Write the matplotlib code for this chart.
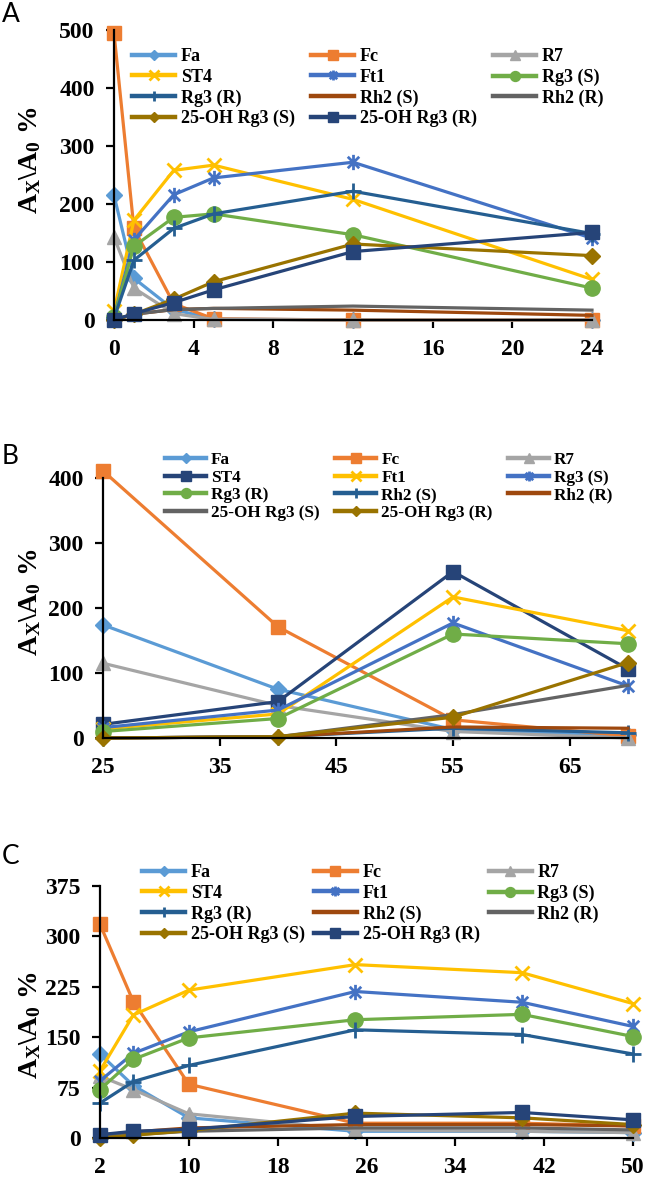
import numpy as np
import matplotlib
matplotlib.use("Agg")
import matplotlib.pyplot as plt
from matplotlib.path import Path

plt.rcParams['font.family'] = ['Liberation Serif', 'DejaVu Serif']
plt.rcParams['font.weight'] = 'bold'
plt.rcParams['mathtext.fontset'] = 'custom'
plt.rcParams['mathtext.rm'] = 'Liberation Serif:bold'
plt.rcParams['mathtext.bf'] = 'Liberation Serif:bold'
plt.rcParams['mathtext.it'] = 'Liberation Serif:bold'

names = ["Fa", "Fc", "R7", "ST4", "Ft1", "Rg3 (S)", "Rg3 (R)",
         "Rh2 (S)", "Rh2 (R)", "25-OH Rg3 (S)", "25-OH Rg3 (R)"]

# panel A: time (h)
xA = [0, 1, 3, 5, 12, 24]
A_Fa = [215, 72, 18, 2, 0, 0]
A_Fc = [495, 158, 28, 2, 0, 0]
A_R7 = [143, 55, 11, 1, 0, 0]
A_ST4 = [15, 172, 258, 267, 208, 70]
A_Ft1 = [5, 138, 216, 245, 272, 141]
A_Rg3S = [5, 127, 177, 183, 147, 55]
A_Rg3R = [3, 103, 158, 183, 222, 149]
A_Rh2S = [0, 10, 18, 20, 17, 8]
A_Rh2R = [0, 10, 18, 20, 24, 17]
A_OHS = [0, 10, 36, 66, 131, 111]
A_OHR = [0, 11, 30, 52, 118, 151]

# panel B: temperature
xB = [25, 40, 55, 70]
B_Fa = [174, 75, 13, 4]
B_Fc = [411, 171, 28, 3]
B_R7 = [115, 50, 10, 0]
B_ST4 = [21, 56, 256, 106]
B_Ft1 = [14, 37, 217, 165]
B_Rg3S = [16, 43, 177, 80]
B_Rg3R = [10, 30, 160, 145]
B_Rh2S = [0, 2, 15, 8]
B_Rh2R = [0, 2, 17, 15]
B_OHS = [0, 2, 36, 81]
B_OHR = [0, 2, 32, 116]

# panel C
xC = [2, 5, 10, 25, 40, 50]
C_Fa = [125, 78, 30, 10, 10, 8]
C_Fc = [318, 203, 80, 22, 22, 18]
C_R7 = [92, 72, 36, 12, 10, 8]
C_ST4 = [100, 183, 220, 258, 246, 200]
C_Ft1 = [85, 126, 158, 218, 202, 166]
C_Rg3S = [72, 117, 149, 176, 184, 151]
C_Rg3R = [52, 84, 108, 161, 154, 125]
C_Rh2S = [4, 9, 15, 20, 20, 18]
C_Rh2R = [2, 5, 10, 15, 15, 12]
C_OHS = [0, 4, 11, 37, 30, 20]
C_OHR = [5, 10, 13, 32, 38, 27]

# excel style asterisk: x plus a vertical bar
ast = Path([(0, -1), (0, 1), (-0.75, -0.75), (0.75, 0.75), (-0.75, 0.75), (0.75, -0.75)],
           [Path.MOVETO, Path.LINETO, Path.MOVETO, Path.LINETO, Path.MOVETO, Path.LINETO])
# (color, marker, size) per series
sty_AC = [("#5B9BD5", "D", 8), ("#ED7D31", "s", 10), ("#A5A5A5", "^", 10),
          ("#FFC000", "x", 10), ("#4472C4", ast, 11), ("#70AD47", "o", 11),
          ("#255E91", "+", 12), ("#9E480E", None, 0), ("#636363", None, 0),
          ("#997300", "D", 8), ("#264478", "s", 10)]
sty_B = [("#5B9BD5", "D", 8), ("#ED7D31", "s", 10), ("#A5A5A5", "^", 10),
         ("#264478", "s", 10), ("#FFC000", "x", 10), ("#4472C4", ast, 11),
         ("#70AD47", "o", 11), ("#255E91", "+", 12), ("#9E480E", None, 0),
         ("#636363", None, 0), ("#997300", "D", 8)]

fig = plt.figure(figsize=(6.45, 11.79), dpi=100)


def panel(rect, x, ys, sty, xlim, xticks, ylim, yticks, leg_xy, lab_y, letter, letter_y,
          lfs=13, lcs=1.0, lls=0.1):
    ax = fig.add_axes(rect)
    lines = []
    for y, (c, m, ms), nm in zip(ys, sty, names):
        thin = isinstance(m, Path) or m in ("x", "+")
        l, = ax.plot(x, y, color=c, lw=2.3, marker=m, ms=ms, mew=2 if thin else 1,
                     mec=c, mfc=c, clip_on=False, label=nm)
        lines.append(l)
    ax.set_xlim(*xlim)
    ax.set_ylim(*ylim)
    ax.set_xticks(xticks)
    ax.set_yticks(yticks)
    for s in ["top", "right"]:
        ax.spines[s].set_visible(False)
    for s in ["left", "bottom"]:
        ax.spines[s].set_linewidth(1.6)
    ax.tick_params(direction="out", length=6, width=1.6, labelsize=17, pad=8)
    order = [0, 3, 6, 9, 1, 4, 7, 10, 2, 5, 8]
    leg = fig.legend([lines[i] for i in order], [names[i] for i in order], ncol=3,
                     loc="upper left", bbox_to_anchor=leg_xy, bbox_transform=fig.transFigure,
                     frameon=False, fontsize=lfs, borderpad=0, borderaxespad=0,
                     handlelength=2.4, handletextpad=0.3, labelspacing=lls,
                     columnspacing=lcs, markerscale=0.65)
    for h in leg.get_lines():
        h.set_linewidth(3.2)
    fig.text(30 / 645, lab_y, r"$\mathrm{A_X\backslash A_0}$ %", rotation=90,
             ha="center", va="center", fontsize=20, fontweight="bold")
    fig.text(2 / 645, letter_y, letter, family="Lato", fontweight="normal",
             fontsize=19, ha="left", va="top")
    return ax


panel([114 / 645, 1 - 320 / 1179, 478 / 645, 290 / 1179], xA,
      [A_Fa, A_Fc, A_R7, A_ST4, A_Ft1, A_Rg3S, A_Rg3R, A_Rh2S, A_Rh2R, A_OHS, A_OHR],
      sty_AC, (0, 24), range(0, 25, 4), (0, 500), range(0, 501, 100),
      (132 / 645, 1 - 48 / 1179), 1 - 160 / 1179, "A", 1 - 2 / 1179,
      lfs=13, lcs=0.9, lls=0.2)

panel([103 / 645, 1 - 738 / 1179, 525 / 645, 260 / 1179], xB,
      [B_Fa, B_Fc, B_R7, B_ST4, B_Ft1, B_Rg3S, B_Rg3R, B_Rh2S, B_Rh2R, B_OHS, B_OHR],
      sty_B, (25, 70), range(25, 70, 10), (0, 400), range(0, 401, 100),
      (165 / 645, 1 - 452 / 1179), 1 - 602 / 1179, "B", 1 - 444 / 1179,
      lfs=12.3, lcs=0.9, lls=0.1)

panel([100 / 645, 1 - 1138 / 1179, 533 / 645, 252 / 1179], xC,
      [C_Fa, C_Fc, C_R7, C_ST4, C_Ft1, C_Rg3S, C_Rg3R, C_Rh2S, C_Rh2R, C_OHS, C_OHR],
      sty_AC, (2, 50), range(2, 51, 8), (0, 375), range(0, 376, 75),
      (142 / 645, 1 - 864 / 1179), 1 - 1025 / 1179, "C", 1 - 844 / 1179,
      lfs=13, lcs=0.5, lls=0.2)

fig.savefig("out.png", dpi=100)
